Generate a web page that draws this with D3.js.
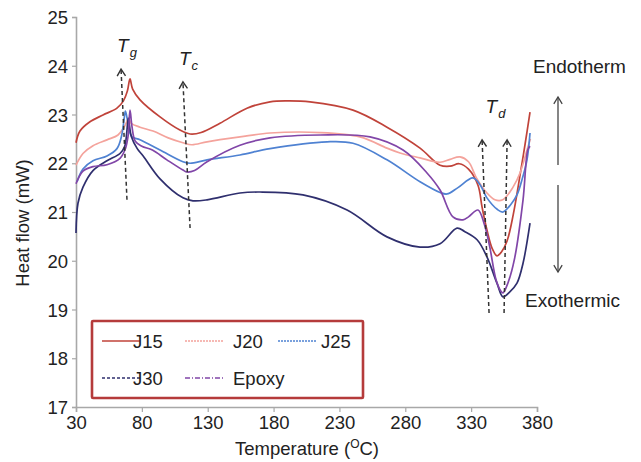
<!DOCTYPE html>
<html>
<head>
<meta charset="utf-8">
<script src="https://cdn.jsdelivr.net/npm/d3@7"></script>
<style>
  html, body { margin: 0; padding: 0; background: #fff; }
  svg { display: block; font-family: "Liberation Sans", Arial, sans-serif; }
</style>
</head>
<body>
<svg id="chart" width="641" height="462"></svg>
<script>
// DSC heat-flow curves: [temperature (°C), heat flow (mW)]
const j15 = [[30,22.42],[33,22.66],[40.6,22.85],[50.5,22.99],[61.1,23.13],[66,23.28],[69,23.48],[71,23.73],[73,23.52],[78.6,23.3],[93.8,22.95],[108.9,22.68],[116.6,22.6],[125,22.63],[139.3,22.82],[159.8,23.13],[177.3,23.26],[190,23.28],[207.7,23.26],[240.3,23.09],[266.1,22.74],[291.2,22.31],[306.4,21.96],[314,21.94],[321,21.99],[328,21.88],[335.2,21.55],[338.3,21.1],[342,20.63],[346,20.25],[349.6,20.1],[353,20.18],[357.2,20.4],[362,20.95],[367.1,21.75],[371,22.4],[374.7,23.05]];
const j20 = [[30,21.96],[35.3,22.2],[42.9,22.36],[53.5,22.48],[61.9,22.58],[66,22.72],[68.5,22.85],[69.7,22.93],[72,22.82],[78.6,22.74],[88.5,22.66],[100,22.52],[111.2,22.42],[118,22.38],[129.5,22.44],[154.5,22.54],[177.3,22.62],[215.3,22.63],[245.6,22.54],[266.1,22.31],[276,22.21],[291.2,22.11],[306.4,22.02],[314,22.08],[321.5,22.13],[328,22.03],[334,21.7],[342,21.39],[348,21.25],[354,21.25],[361.8,21.51],[367.1,21.8],[372.4,22.27],[375,22.5]];
const j25 = [[30.8,21.62],[35.3,21.88],[42.9,22.05],[53.5,22.15],[61.1,22.3],[64.5,22.55],[66.5,22.9],[67.5,23.07],[69,22.9],[72.3,22.55],[78.6,22.48],[93.8,22.27],[111.2,22.03],[116.6,22.0],[129.5,22.07],[154.5,22.17],[177.3,22.3],[220.6,22.44],[240.3,22.41],[266.1,22.07],[291.2,21.62],[306.4,21.4],[311.7,21.37],[320,21.5],[331.4,21.7],[337,21.55],[342,21.29],[350,21.05],[354.2,21.0],[360,21.15],[364.8,21.35],[369,21.7],[372.4,22.07],[374.7,22.62]];
const j30 = [[30,20.57],[31.5,21.18],[35.3,21.51],[42.9,21.85],[53.5,22.05],[63.4,22.2],[67,22.35],[68.5,22.62],[69.7,22.92],[72,22.55],[76.5,22.3],[81,22.15],[93.8,21.68],[111.2,21.29],[118.8,21.23],[129.5,21.25],[154.5,21.39],[169.7,21.41],[202.3,21.35],[235.8,21.04],[266.1,20.49],[291.2,20.28],[306.4,20.35],[319.3,20.67],[325,20.6],[334.5,20.43],[342,20.08],[349.6,19.54],[354.2,19.26],[359,19.35],[364.8,19.54],[369.4,19.95],[374.7,20.77]];
const epoxy = [[30,21.58],[35.3,21.84],[42.9,21.93],[53.5,21.97],[63.4,22.1],[67.5,22.3],[69.5,22.55],[71,23.09],[72.5,22.75],[75,22.45],[80,22.35],[88,22.27],[99,22.07],[111.2,21.86],[114.3,21.82],[120,21.85],[129.5,22.03],[154.5,22.37],[177.3,22.52],[215.3,22.58],[253.2,22.54],[278.3,22.27],[296.5,21.8],[306.4,21.45],[316.2,20.9],[323.8,20.84],[328,20.9],[335.2,21.04],[340,20.75],[344,20.3],[349,19.6],[352.5,19.38],[354.2,19.34],[358,19.55],[363,20.05],[369.4,21.25],[373,22.27],[374.7,22.35]];

const seriesNames = ["J15", "J20", "J25", "J30", "Epoxy"];
const seriesData = [j15, j20, j25, j30, epoxy];
const seriesColors = ["#c0433a", "#f4a39c", "#4f82d2", "#2f2f6e", "#8146a8"];
const legendDash = [null, "2,1", "2,1", "3,2", "5,2,1,2"];

const xTicks = [30, 80, 130, 180, 230, 280, 330, 380];
const yTicks = [17, 18, 19, 20, 21, 22, 23, 24, 25];

// Transition markers: [label, subscript, bottom point, top point]
const transitions = [
  ["T", "g", [68.7, 21.25], [64.2, 23.93]],
  ["T", "c", [116.6, 20.67], [111.2, 23.67]],
  [null, null, [343.6, 18.93], [338.3, 22.48]],
  ["T", "d", [355.0, 18.93], [357.3, 22.48]]
];

const svg = d3.select("#chart");
const x = d3.scaleLinear().domain([30, 380]).range([76, 537]);
const y = d3.scaleLinear().domain([17, 25]).range([407, 17]);

const axisColor = "#a8a8a8";
const textColor = "#222";

// Axes
const gx = svg.append("g").attr("transform", `translate(0,${y(17)})`)
  .call(d3.axisBottom(x).tickValues(xTicks).tickSizeOuter(0).tickSize(5).tickPadding(4));
const gy = svg.append("g").attr("transform", `translate(${x(30)},0)`)
  .call(d3.axisLeft(y).tickValues(yTicks).tickSizeOuter(0).tickSize(4).tickPadding(4));
[gx, gy].forEach(g => {
  g.select(".domain").attr("stroke", axisColor).attr("stroke-width", 1.6);
  g.selectAll(".tick line").attr("stroke", axisColor).attr("stroke-width", 1.2);
  g.selectAll(".tick text").attr("fill", textColor).style("font-size", "18.5px")
    .style("font-family", "'Liberation Sans', Arial, sans-serif");
});
gy.selectAll(".tick text").attr("dy", "0.36em");

// Axis titles
const xt = svg.append("text").attr("x", 307).attr("y", 455).attr("text-anchor", "middle")
  .attr("fill", textColor).style("font-size", "18.5px");
xt.append("tspan").text("Temperature (");
xt.append("tspan").text("O").attr("dy", -7).style("font-size", "12px");
xt.append("tspan").text("C)").attr("dy", 7);

svg.append("text").attr("transform", "translate(29,223) rotate(-90)")
  .attr("text-anchor", "middle").attr("fill", textColor).style("font-size", "18.5px")
  .text("Heat flow (mW)");

// Curves
const line = d3.line().x(d => x(d[0])).y(d => y(d[1])).curve(d3.curveCatmullRom.alpha(0.5));
svg.append("g").selectAll("path").data(seriesData).join("path")
  .attr("d", line).attr("fill", "none")
  .attr("stroke", (d, i) => seriesColors[i]).attr("stroke-width", 1.7)
  .attr("stroke-linejoin", "round");

// Transition arrows (dashed with open heads)
const arrowColor = "#333";
function chevron(g, tipX, tipY, angle, color, w) {
  const len = 8, spread = 0.55;
  const a1 = angle + Math.PI - spread, a2 = angle + Math.PI + spread;
  g.append("path")
    .attr("d", `M${tipX + len * Math.cos(a1)},${tipY + len * Math.sin(a1)}L${tipX},${tipY}L${tipX + len * Math.cos(a2)},${tipY + len * Math.sin(a2)}`)
    .attr("fill", "none").attr("stroke", color).attr("stroke-width", w);
}
const ann = svg.append("g");
transitions.forEach(([lab, sub, b, t]) => {
  const x1 = x(b[0]), y1 = y(b[1]), x2 = x(t[0]), y2 = y(t[1]);
  ann.append("line").attr("x1", x1).attr("y1", y1).attr("x2", x2).attr("y2", y2)
    .attr("stroke", arrowColor).attr("stroke-width", 1.5).attr("stroke-dasharray", "4,3");
  chevron(ann, x2, y2, Math.atan2(y2 - y1, x2 - x1), arrowColor, 1.4);
  if (lab) {
    const tx = sub === "d" ? (x2 + x(338.3)) / 2 - 9 : x2 - 4;
    const ty = sub === "d" ? y2 - 27 : y2 - 17;
    const txt = ann.append("text").attr("x", tx).attr("y", ty).attr("fill", textColor)
      .style("font-style", "italic").style("font-size", "19px");
    txt.append("tspan").text(lab);
    txt.append("tspan").text(sub).attr("dy", 5).attr("dx", 1).style("font-size", "13px");
  }
});

// Endotherm / Exothermic direction arrows
const dirX = x(380) + 21;
const dir = svg.append("g");
dir.append("line").attr("x1", dirX).attr("x2", dirX).attr("y1", 165).attr("y2", 97)
  .attr("stroke", "#444").attr("stroke-width", 1.3);
chevron(dir, dirX, 97, -Math.PI / 2, "#444", 1.3);
dir.append("line").attr("x1", dirX).attr("x2", dirX).attr("y1", 185).attr("y2", 272)
  .attr("stroke", "#444").attr("stroke-width", 1.3);
chevron(dir, dirX, 272, Math.PI / 2, "#444", 1.3);
dir.append("text").attr("x", 533).attr("y", 73).attr("fill", textColor)
  .style("font-size", "19px").text("Endotherm");
dir.append("text").attr("x", 525).attr("y", 307).attr("fill", textColor)
  .style("font-size", "19px").text("Exothermic");

// Legend
const legend = svg.append("g");
legend.append("rect").attr("x", 92).attr("y", 321).attr("width", 271).attr("height", 77)
  .attr("fill", "#fff").attr("stroke", "#b53b3b").attr("stroke-width", 2.6).attr("rx", 1);
const slots = [[102, 341, 133], [185, 341, 233], [278, 341, 321], [102, 378, 133], [185, 378, 233]];
seriesNames.forEach((name, i) => {
  const [lx, ly, tx] = slots[i];
  legend.append("line").attr("x1", lx).attr("x2", lx + 38).attr("y1", ly).attr("y2", ly)
    .attr("stroke", seriesColors[i]).attr("stroke-width", 1.5)
    .attr("stroke-dasharray", legendDash[i]);
  legend.append("text").attr("x", tx).attr("y", ly + 7).attr("fill", textColor)
    .style("font-size", "18.5px").text(name);
});
</script>
</body>
</html>
